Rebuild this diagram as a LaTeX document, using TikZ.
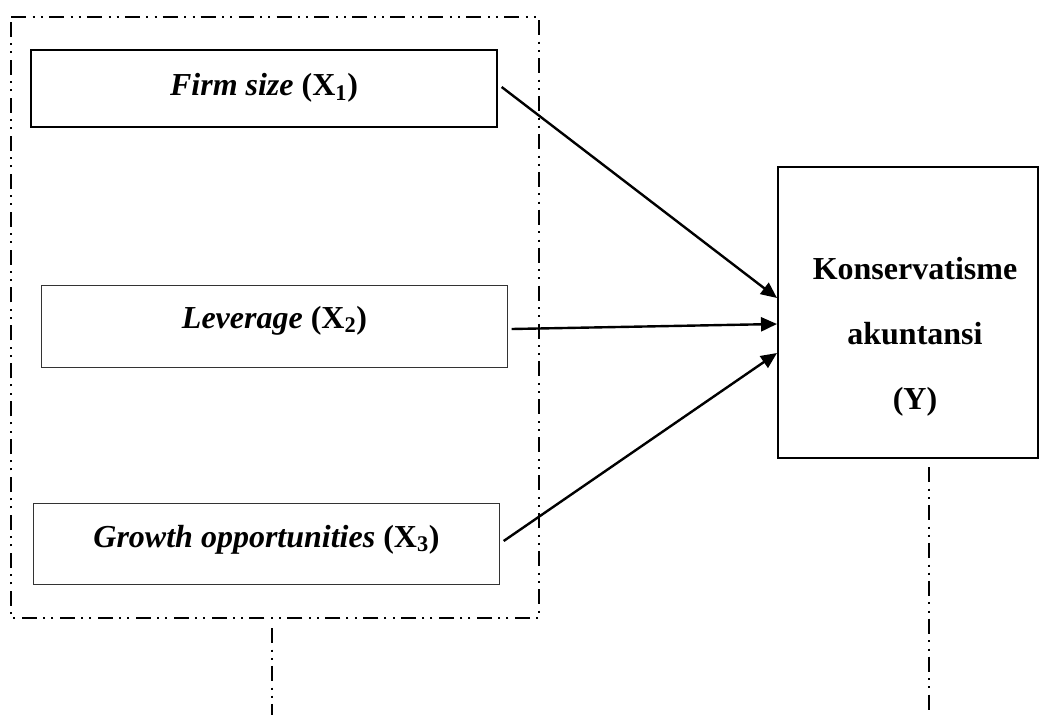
\documentclass[tikz,border=0pt]{standalone}
\usepackage{fontspec}
\setmainfont{Liberation Serif}
\usetikzlibrary{arrows.meta,calc}

\tikzset{every picture/.style={line width=0.75pt}}
\tikzset{
  varbox/.style={draw, rectangle, inner sep=0pt, minimum width=349pt},
  vartext/.style={anchor=base, inner sep=0pt, font=\fontsize{24}{28}\selectfont},
  frameline/.style={line width=1.3pt, dash pattern=on 11.25pt off 5pt on 1.5pt off 4.6pt on 1.5pt off 4.6pt},
  linkarrow/.style={line width=1.8pt, -{Triangle[length=12pt,width=10.5pt]}}
}

\begin{document}
\begin{tikzpicture}[x=0.75pt,y=0.75pt,yscale=-1,xscale=1]
	\useasboundingbox (0,0) rectangle (1040,715);

	%Shape: Rectangle (dash-dot frame round X)
	\draw [frameline] (11,17) -- (539,17) -- (539,618) -- (11,618) -- cycle ;
	%Straight Lines (dash-dot below frame)
	\draw [frameline] (272,628) -- (272,715) ;
	%Straight Lines (dash-dot below Y)
	\draw [frameline] (929,467) -- (929,715) ;

	%Shape: Rectangle
	\draw (264,88.5) node [varbox, minimum height=57.75pt, line width=1.5pt] (fsbox) {} ;
	%Shape: Rectangle
	\draw (274.5,326) node [varbox, minimum height=61.5pt, draw=black!80] (levbox) {} ;
	%Shape: Rectangle
	\draw (266.5,543.5) node [varbox, minimum height=60.75pt, draw=black!80] (grbox) {} ;
	%Shape: Rectangle
	\draw (908,312.5) node [draw, rectangle, inner sep=0pt, minimum width=195pt, minimum height=218.25pt, line width=1.5pt] (kabox) {} ;

	%Straight Lines
	\draw [linkarrow] ($(fsbox.east)+(4,-1.5)$) -- ($(kabox.west)+(0,-14.5)$) ;
	%Straight Lines
	\draw [linkarrow] ($(levbox.east)+(4,3)$) -- ($(kabox.west)+(0,11.5)$) ;
	%Straight Lines
	\draw [linkarrow] ($(grbox.east)+(4,-2.5)$) -- ($(kabox.west)+(0,40.5)$) ;

	% Text Node
	\draw (264,95.5) node [vartext] (fstext) {\textbf{\textit{Firm size}} \textbf{(X\textsubscript{1})}};
	% Text Node
	\draw (274.5,328) node [vartext] (levtext) {\textbf{\textit{Leverage}} \textbf{(X\textsubscript{2})}};
	% Text Node
	\draw (266.5,547) node [vartext] (grtext) {\textbf{\textit{Growth opportunities}} \textbf{(X\textsubscript{3})}};
	% Text Node
	\draw (915,337) node [align=center, inner sep=0pt, font=\fontsize{24}{48.75}\selectfont\bfseries] (katext) {Konservatisme\\akuntansi\\(Y)};

\end{tikzpicture}
\end{document}
